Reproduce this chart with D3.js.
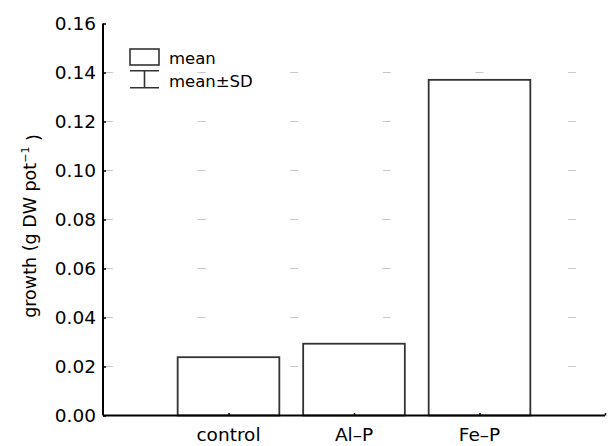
<!DOCTYPE html>
<html>
<head>
<meta charset="utf-8">
<script src="https://cdn.jsdelivr.net/npm/d3@7"></script>
<style>
  body { margin: 0; background: #fff; }
  svg { display: block; font-family: "DejaVu Sans", sans-serif; }
</style>
</head>
<body>
<svg id="chart" width="608" height="446"></svg>
<script>
// values
const categories = ["control", "Al\u2013P", "Fe\u2013P"];
const means = [0.0238, 0.0293, 0.137];
const yTicks = [0, 0.02, 0.04, 0.06, 0.08, 0.10, 0.12, 0.14, 0.16];
const gridTicks = [0.02, 0.04, 0.06, 0.08, 0.10, 0.12, 0.14];

const svg = d3.select("#chart");

const x = d3.scaleLinear().domain([0, 4]).range([103, 605]);
const y = d3.scaleLinear().domain([0, 0.16]).range([415.5, 23.5]);
const barW = 0.81;

// sparse dashed grid
svg.append("g").selectAll("line")
  .data(gridTicks)
  .enter().append("line")
  .attr("x1", x(0) + 2).attr("x2", x(4))
  .attr("y1", d => y(d)).attr("y2", d => y(d))
  .style("stroke", "#c8c8c8")
  .style("stroke-width", 1)
  .style("stroke-dasharray", "8,84.6");

// bars
svg.append("g").selectAll("rect")
  .data(means)
  .enter().append("rect")
  .attr("x", (d, i) => x(i + 1 - barW / 2))
  .attr("width", x(barW) - x(0))
  .attr("y", d => y(d))
  .attr("height", d => y(0) - y(d))
  .style("fill", "#fff")
  .style("stroke", "#333")
  .style("stroke-width", 1.8);

// y axis
const yAxis = svg.append("g")
  .attr("transform", "translate(" + x(0) + ",0)")
  .call(d3.axisRight(y).tickValues(yTicks).tickSize(3).tickFormat(""));
yAxis.select(".domain").attr("d", "M0," + y(0.16) + "V" + y(0))
  .style("stroke", "#000").style("stroke-width", 2);
yAxis.selectAll(".tick line").style("stroke", "#000").style("stroke-width", 1.5);

svg.append("g").selectAll("text")
  .data(yTicks)
  .enter().append("text")
  .attr("x", x(0) - 7)
  .attr("y", d => y(d))
  .attr("dy", "0.36em")
  .attr("text-anchor", "end")
  .style("font-size", "18.5px")
  .text(d => d3.format(".2f")(d));

// x axis
const xAxis = svg.append("g")
  .attr("transform", "translate(0," + y(0) + ")")
  .call(d3.axisTop(x).tickValues([1, 2, 3, 4]).tickSize(2.5).tickFormat(""));
xAxis.select(".domain").attr("d", "M" + x(0) + ",0H" + x(4))
  .style("stroke", "#000").style("stroke-width", 2);
xAxis.selectAll(".tick line").style("stroke", "#000").style("stroke-width", 1.5);

svg.append("g").selectAll("text")
  .data(categories)
  .enter().append("text")
  .attr("x", (d, i) => x(i + 1))
  .attr("y", 441)
  .attr("text-anchor", "middle")
  .style("font-size", "18.5px")
  .text(d => d);

// y label
const yl = svg.append("text")
  .attr("transform", "translate(36,226) rotate(-90)")
  .attr("text-anchor", "middle")
  .style("font-size", "17.5px");
yl.append("tspan").text("growth (g DW pot");
yl.append("tspan").attr("dy", "-0.6em").style("font-size", "11px").text("\u22121");
yl.append("tspan").attr("dy", "0.6em").text(" )");

// legend
const lg = svg.append("g").style("stroke", "#333").style("stroke-width", 1.6).style("fill", "none");
lg.append("rect").attr("x", 130).attr("y", 49).attr("width", 29).attr("height", 16).style("fill", "#fff");
lg.append("path").attr("d", "M130,70.7H159M144.5,70.7V87.7M130,87.7H159");
svg.append("text").attr("x", 169).attr("y", 64).style("font-size", "16.5px").text("mean");
svg.append("text").attr("x", 169).attr("y", 86.5).style("font-size", "16.5px").text("mean\u00b1SD");
</script>
</body>
</html>
